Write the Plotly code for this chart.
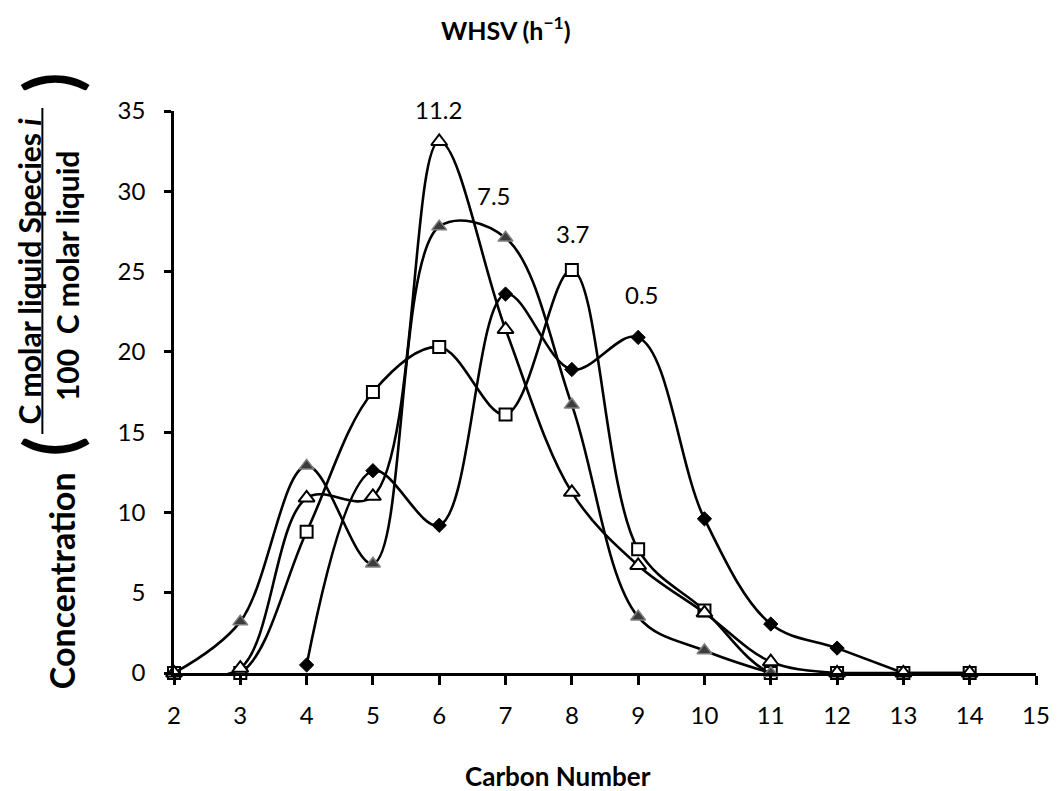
import plotly.graph_objects as go

# ---- data ----
x_05 = [4, 5, 6, 7, 8, 9, 10, 11, 12, 13]
y_05 = [0.5, 12.6, 9.2, 23.6, 18.9, 20.9, 9.6, 3.05, 1.55, 0]

x_37 = [2, 3, 4, 5, 6, 7, 8, 9, 10, 11, 12, 13, 14]
y_37 = [0, 0, 8.8, 17.5, 20.3, 16.1, 25.1, 7.7, 3.9, 0, 0, 0, 0]

x_75 = [2, 3, 4, 5, 6, 7, 8, 9, 10, 11]
y_75 = [0, 3.2, 12.9, 6.8, 27.8, 27.1, 16.7, 3.5, 1.4, 0]

x_112 = [2, 3, 4, 5, 6, 7, 8, 9, 10, 11, 12, 13, 14]
y_112 = [0, 0.3, 10.9, 11.0, 33.1, 21.4, 11.25, 6.7, 3.75, 0.7, 0, 0, 0]

whsv_labels = ["11.2", "7.5", "3.7", "0.5"]
label_x = [5.985, 6.82, 8.01, 9.06]
label_y = [35.1, 29.75, 27.34, 23.6]

X_RANGE = [2, 15]
Y_RANGE = [0, 35]

FONT = "Lato"
L, R, T, B = 174, 17, 111, 118
W, H = 1062, 791
PW, PH = W - L - R, H - T - B


def px(x):
    return (x - L) / PW


def py(y):
    return (H - B - y) / PH


def dx(v):
    return (v - X_RANGE[0]) / (X_RANGE[1] - X_RANGE[0])


def dy(v):
    return (v - Y_RANGE[0]) / (Y_RANGE[1] - Y_RANGE[0])


fig = go.Figure()
line = dict(color="black", width=2.6, shape="spline", smoothing=1)

fig.add_trace(go.Scatter(x=x_05, y=y_05, mode="lines+markers", line=line,
                         marker=dict(symbol="diamond", size=11, color="black",
                                     line=dict(color="black", width=1)),
                         cliponaxis=False, name="0.5"))
fig.add_trace(go.Scatter(x=x_37, y=y_37, mode="lines+markers", line=line,
                         marker=dict(symbol="square", size=12, color="white",
                                     line=dict(color="black", width=2)),
                         cliponaxis=False, name="3.7"))
fig.add_trace(go.Scatter(x=x_75, y=y_75, mode="lines+markers", line=line,
                         marker=dict(symbol="triangle-up", size=13, color="#3c3c3c",
                                     line=dict(color="#7f7f7f", width=1.5)),
                         cliponaxis=False, name="7.5"))
fig.add_trace(go.Scatter(x=x_112, y=y_112, mode="lines+markers", line=line,
                         marker=dict(symbol="triangle-up", size=14, color="white",
                                     line=dict(color="black", width=2)),
                         cliponaxis=False, name="11.2"))

annotations = []
for t, xx, yy in zip(whsv_labels, label_x, label_y):
    annotations.append(dict(x=dx(xx), y=dy(yy), xref="paper", yref="paper", text=t,
                            showarrow=False,
                            font=dict(family=FONT, size=24, color="black"),
                            xanchor="center", yanchor="middle"))

# Title
annotations.append(dict(x=px(509), y=py(29), xref="paper", yref="paper",
                        text="<b>WHSV (h<sup>\u22121</sup>)</b>", showarrow=False,
                        font=dict(family=FONT, size=25, color="black"),
                        xanchor="center", yanchor="middle"))
# X title
annotations.append(dict(x=px(562), y=py(776), xref="paper", yref="paper",
                        text="<b>Carbon Number</b>", showarrow=False,
                        font=dict(family=FONT, size=26, color="black"),
                        xanchor="center", yanchor="middle"))
# Y title pieces
annotations.append(dict(x=px(60), y=py(581), xref="paper", yref="paper",
                        text="<b>Concentration</b>", showarrow=False, textangle=-90,
                        font=dict(family=FONT, size=34, color="black"),
                        xanchor="center", yanchor="middle"))
annotations.append(dict(x=px(27), y=py(271), xref="paper", yref="paper",
                        text="<b>C molar liquid Species <i>i</i></b>", showarrow=False,
                        textangle=-90, font=dict(family=FONT, size=30, color="black"),
                        xanchor="center", yanchor="middle"))
annotations.append(dict(x=px(66), y=py(276), xref="paper", yref="paper",
                        text="<b>100\u00a0 C molar liquid</b>", showarrow=False,
                        textangle=-90, font=dict(family=FONT, size=30, color="black"),
                        xanchor="center", yanchor="middle"))
annotations.append(dict(x=px(49), y=py(446), xref="paper", yref="paper",
                        text="<b>(</b>", showarrow=False, textangle=-90,
                        font=dict(family=FONT, size=72, color="black"),
                        xanchor="center", yanchor="middle"))
annotations.append(dict(x=px(49), y=py(82), xref="paper", yref="paper",
                        text="<b>)</b>", showarrow=False, textangle=-90,
                        font=dict(family=FONT, size=72, color="black"),
                        xanchor="center", yanchor="middle"))

shapes = [dict(type="line", xref="paper", yref="paper",
               x0=px(41), x1=px(41), y0=py(108), y1=py(434),
               line=dict(color="black", width=2))]

fig.update_layout(
    width=W, height=H,
    margin=dict(l=L, r=R, t=T, b=B),
    paper_bgcolor="white", plot_bgcolor="white",
    showlegend=False,
    annotations=annotations,
    shapes=shapes,
    font=dict(family=FONT, color="black"),
)
fig.update_xaxes(range=X_RANGE, tickmode="linear", tick0=2, dtick=1,
                 showgrid=False, zeroline=False, showline=True,
                 linecolor="black", linewidth=2.5, ticks="outside", ticklen=9,
                 tickwidth=2.5, tickcolor="black", ticklabelstandoff=10,
                 tickfont=dict(family=FONT, size=24, color="black"))
fig.update_yaxes(range=Y_RANGE, tickmode="linear", tick0=0, dtick=5,
                 showgrid=False, zeroline=False, showline=True,
                 linecolor="black", linewidth=2.5, ticks="outside", ticklen=7,
                 tickwidth=2.5, tickcolor="black", ticklabelstandoff=14,
                 tickfont=dict(family=FONT, size=24, color="black"))

fig.write_html("out.html")
